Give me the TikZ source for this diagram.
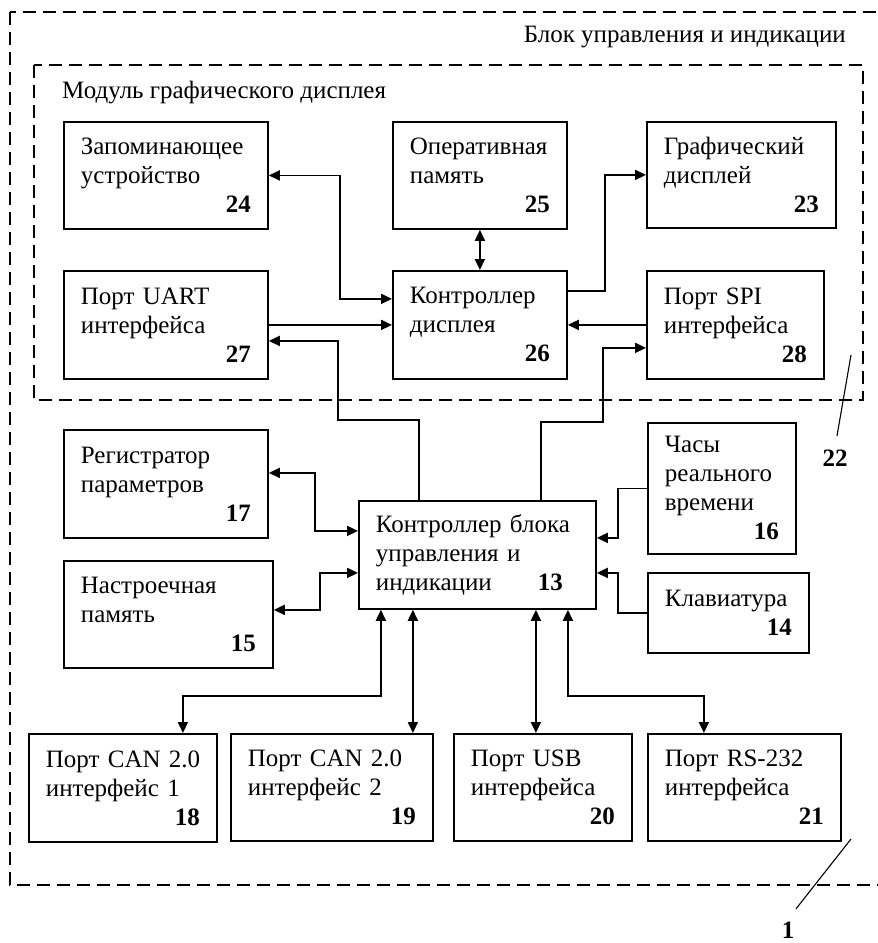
\documentclass[tikz,border=0pt]{standalone}
\usepackage{fontspec}
\setmainfont{Liberation Serif}
\usetikzlibrary{arrows.meta}
\begin{document}
\begin{tikzpicture}[x=1pt,y=-1pt,line width=1.8pt,>={Triangle[length=11pt,width=10pt]},
  every node/.style={font=\fontsize{25}{29}\selectfont},
  blk/.style 2 args={draw,anchor=north west,inner xsep=17pt,inner ysep=0pt,align=left,
    minimum width=#1,minimum height=#2,text width=#1-34pt}]
\tikzstyle{frame}=[line width=1.2pt,dash pattern=on 13pt off 7pt]
\tikzstyle{lead}=[line width=1.1pt]
\tikzstyle{num}=[inner sep=0pt,font=\bfseries\fontsize{25}{29}\selectfont]
\useasboundingbox (0,0) rectangle (878,943);
\draw[frame] (10,12) rectangle (900,885);
\draw[frame] (34,65) rectangle (863,400);
\node[anchor=east](tBlk) at (850,37) {Блок управления и индикации};
\node[anchor=west](tMod) at (58,93) {Модуль графического дисплея};

\node[blk={204}{107}](b24) at (63,121) {Запоминающее\\устройство\\\hspace*{\fill}\textbf{24}};
\node[blk={174}{107}](b25) at (392,121) {Оперативная\\память\\\hspace*{\fill}\textbf{25}};
\node[blk={189}{106}](b23) at (646,121) {Графический\\дисплей\\\hspace*{\fill}\textbf{23}};

\node[blk={204}{108}](b27) at (63,270) {Порт UART\\интерфейса\\\hspace*{\fill}\textbf{27}};
\node[blk={174}{108}](b26) at (392,270) {Контроллер\\дисплея\\\hspace*{\fill}\textbf{26}};
\node[blk={177}{108}](b28) at (646,270) {Порт SPI\\интерфейса\\\hspace*{\fill}\textbf{28}};

\node[blk={204}{108}](b17) at (63,429) {Регистратор\\параметров\\\hspace*{\fill}\textbf{17}};
\node[blk={209}{107}](b15) at (63,560) {Настроечная\\память\\\hspace*{\fill}\textbf{15}};
\node[blk={237}{108}](b13) at (358,500) {Контроллер~блока\\управления и\\индикации\hfill\textbf{13}\rule{16pt}{0pt}};
\node[blk={148}{131}](b16) at (647,422) {Часы\\реального\\времени\\\hspace*{\fill}\textbf{16}};
\node[blk={161}{80}](b14) at (647,572) {Клавиатура\\\hspace*{\fill}\textbf{14}};

\node[blk={188}{108}](b18) at (28,733) {Порт~CAN~2.0\\интерфейс~1\\\hspace*{\fill}\textbf{18}};
\node[blk={202}{107}](b19) at (230,733) {Порт~CAN~2.0\\интерфейс~2\\\hspace*{\fill}\textbf{19}};
\node[blk={178}{107}](b20) at (453,733) {Порт USB\\интерфейса\\\hspace*{\fill}\textbf{20}};
\node[blk={193}{107}](b21) at (647,733) {Порт~RS-232\\интерфейса\\\hspace*{\fill}\textbf{21}};

\draw[<->] (b24.east) -- ++(71,0) |- ([yshift=26pt]b26.west);
\draw[->] (b27.east) -- (b27.east -| b26.west);
\draw[->] ([xshift=-58.5pt]b13.north) -- ++(0,-80) -- ++(-81,0) |- ([yshift=-16pt]b27.east);
\draw[<->] (b25.south) -- (b26.north);
\draw[->] ([yshift=34pt]b26.east) -- ++(37,0) |- (b23.west);
\draw[->] (b28.west) -- (b28.west -| b26.east);
\draw[->] ([xshift=63.5pt]b13.north) -- ++(0,-78) -- ++(62,0) |- ([yshift=-23pt]b28.west);

\draw[<->] ([yshift=11pt]b17.east) -- ++(46,0) |- ([yshift=24pt]b13.west);
\draw[<->] ([yshift=4.5pt]b15.east) -- ++(46,0) |- ([yshift=-18pt]b13.west);
\draw[->] (b16.west) -- ++(-29,0) |- ([yshift=17pt]b13.east);
\draw[->] (b14.west) -- ++(-29,0) |- ([yshift=-18pt]b13.east);

\coordinate (p19) at ([xshift=-64.5pt]b13.south);
\coordinate (p20) at ([xshift=58.5pt]b13.south);
\draw[<->] ([xshift=-96.5pt]b13.south) -- ++(0,86) -| ([xshift=60pt]b18.north);
\draw[<->] (p19) -- (p19 |- b19.north);
\draw[<->] (p20) -- (p20 |- b20.north);
\draw[<->] ([xshift=90.5pt]b13.south) -- ++(0,86) -| ([xshift=-40.5pt]b21.north);

\node[num](n22) at (835,458) {22};
\node[num](n1) at (788,930) {1};
\coordinate (e22) at (851,355);
\coordinate (e1) at (851,839);
\draw[lead] (e22) -- ([xshift=2pt,yshift=13pt]n22.north);
\draw[lead] (e1) -- ([xshift=8pt,yshift=12pt]n1.north);
\end{tikzpicture}
\end{document}
